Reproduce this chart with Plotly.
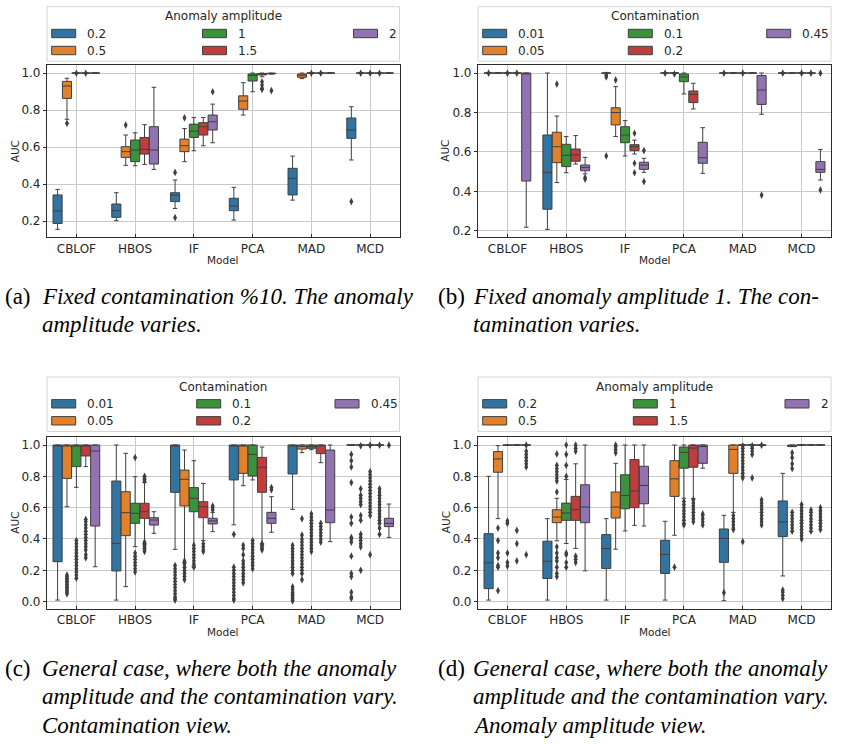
import plotly.graph_objects as go

# ---------------- data ----------------
MODELS = ["CBLOF", "HBOS", "IF", "PCA", "MAD", "MCD"]
AMP_LEVELS = ["0.2", "0.5", "1", "1.5", "2"]
CONT_LEVELS = ["0.01", "0.05", "0.1", "0.2", "0.45"]
HUE_COLORS = ["#3274a1", "#e1812c", "#3a923a", "#c03d3e", "#9372b2"]

# (a) fixed contamination, anomaly amplitude varies  -- rows: models, cols: hue levels
A_LO = [[0.155, 0.75, 1.0, 1.0, 1.0],
        [0.202, 0.501, 0.499, 0.506, 0.479],
        [0.268, 0.521, 0.58, 0.607, 0.623],
        [0.205, 0.773, 0.899, 0.98, 0.994],
        [0.313, 0.97, 1.0, 1.0, 1.0],
        [0.53, 1.0, 1.0, 1.0, 1.0]]
A_Q1 = [[0.187, 0.863, 1.0, 1.0, 1.0],
        [0.220, 0.544, 0.521, 0.562, 0.508],
        [0.305, 0.575, 0.652, 0.665, 0.692],
        [0.256, 0.804, 0.957, 0.99, 0.996],
        [0.341, 0.977, 1.0, 1.0, 1.0],
        [0.647, 1.0, 1.0, 1.0, 1.0]]
A_MED = [[0.254, 0.930, 1.0, 1.0, 1.0],
         [0.256, 0.575, 0.584, 0.587, 0.584],
         [0.340, 0.607, 0.686, 0.710, 0.737],
         [0.281, 0.849, 0.987, 0.995, 0.998],
         [0.431, 0.988, 1.0, 1.0, 1.0],
         [0.692, 1.0, 1.0, 1.0, 1.0]]
A_Q3 = [[0.341, 0.955, 1.0, 1.0, 1.0],
        [0.292, 0.602, 0.638, 0.652, 0.710],
        [0.353, 0.643, 0.724, 0.732, 0.773],
        [0.323, 0.877, 0.995, 0.998, 0.999],
        [0.485, 0.995, 1.0, 1.0, 1.0],
        [0.757, 1.0, 1.0, 1.0, 1.0]]
A_HI = [[0.371, 0.972, 1.0, 1.0, 1.0],
        [0.353, 0.665, 0.677, 0.721, 0.923],
        [0.422, 0.70, 0.76, 0.76, 0.832],
        [0.382, 0.948, 1.0, 1.0, 1.0],
        [0.551, 1.0, 1.0, 1.0, 1.0],
        [0.818, 1.0, 1.0, 1.0, 1.0]]
A_OUT = [[[], [0.728], [0.999], [0.999], []],
         [[], [0.719], [], [], []],
         [[0.463, 0.218], [0.758], [], [], [0.899]],
         [[], [], [], [0.953, 0.935, 0.918, 0.912], [0.905]],
         [[], [], [0.999], [0.999], []],
         [[0.305], [0.999], [0.999], [0.999], []]]

# (b) fixed anomaly amplitude, contamination varies
B_LO = [[1.0, 1.0, 1.0, 1.0, 0.219],
        [0.208, 0.445, 0.495, 0.539, 0.489],
        [0.999, 0.678, 0.58, 0.59, 0.497],
        [1.0, 1.0, 0.894, 0.818, 0.492],
        [1.0, 1.0, 1.0, 1.0, 0.791],
        [1.0, 1.0, 1.0, 1.0, 0.458]]
B_Q1 = [[1.0, 1.0, 1.0, 1.0, 0.453],
        [0.31, 0.546, 0.526, 0.553, 0.505],
        [0.999, 0.737, 0.647, 0.607, 0.512],
        [1.0, 1.0, 0.956, 0.85, 0.543],
        [1.0, 1.0, 1.0, 1.0, 0.841],
        [1.0, 1.0, 1.0, 1.0, 0.497]]
B_MED = [[1.0, 1.0, 1.0, 1.0, 1.0],
         [0.497, 0.627, 0.583, 0.585, 0.521],
         [1.0, 0.80, 0.686, 0.627, 0.534],
         [1.0, 1.0, 0.98, 0.892, 0.571],
         [1.0, 1.0, 1.0, 1.0, 0.914],
         [1.0, 1.0, 1.0, 1.0, 0.512]]
B_Q3 = [[1.0, 1.0, 1.0, 1.0, 1.0],
        [0.686, 0.70, 0.639, 0.615, 0.534],
        [1.0, 0.824, 0.728, 0.637, 0.548],
        [1.0, 1.0, 0.995, 0.909, 0.649],
        [1.0, 1.0, 1.0, 1.0, 0.987],
        [1.0, 1.0, 1.0, 1.0, 0.551]]
B_HI = [[1.0, 1.0, 1.0, 1.0, 1.0],
        [1.0, 0.782, 0.678, 0.683, 0.573],
        [1.0, 0.931, 0.759, 0.66, 0.568],
        [1.0, 1.0, 1.0, 0.948, 0.723],
        [1.0, 1.0, 1.0, 1.0, 1.0],
        [1.0, 1.0, 1.0, 1.0, 0.613]]
B_OUT = [[[0.999], [], [0.999], [0.999], []],
         [[], [0.944], [], [], [0.47, 0.463]],
         [[0.99, 0.98, 0.58], [0.965], [], [0.695, 0.543, 0.495], [0.607, 0.45]],
         [[0.999], [0.995], [], [], []],
         [[0.999], [], [0.999], [], [0.382]],
         [[0.999], [], [0.999], [0.999], [0.999, 0.408]]]

# (c) general case, contamination view
C_LO = [[0.01, 0.606, 0.73, 0.862, 0.223],
        [0.01, 0.096, 0.351, 0.368, 0.436],
        [0.334, 0.249, 0.228, 0.39, 0.447],
        [0.49, 0.74, 0.777, 0.368, 0.443],
        [0.589, 0.951, 0.97, 0.887, 0.383],
        [1.0, 1.0, 1.0, 1.0, 0.41]]
C_Q1 = [[0.255, 0.787, 0.862, 0.93, 0.483],
        [0.196, 0.421, 0.50, 0.532, 0.489],
        [0.698, 0.611, 0.574, 0.536, 0.496],
        [0.777, 0.819, 0.802, 0.698, 0.50],
        [0.815, 0.974, 0.979, 0.945, 0.504],
        [1.0, 1.0, 1.0, 1.0, 0.479]]
C_MED = [[1.0, 1.0, 1.0, 1.0, 0.962],
         [0.372, 0.568, 0.564, 0.574, 0.521],
         [1.0, 0.781, 0.66, 0.606, 0.515],
         [1.0, 1.0, 0.94, 0.857, 0.532],
         [1.0, 0.99, 0.99, 1.0, 0.585],
         [1.0, 1.0, 1.0, 1.0, 0.50]]
C_Q3 = [[1.0, 1.0, 1.0, 1.0, 1.0],
        [0.77, 0.702, 0.628, 0.628, 0.536],
        [1.0, 0.84, 0.728, 0.638, 0.532],
        [1.0, 1.0, 1.0, 0.921, 0.57],
        [1.0, 1.0, 1.0, 1.0, 0.968],
        [1.0, 1.0, 1.0, 1.0, 0.532]]
C_HI = [[1.0, 1.0, 1.0, 1.0, 1.0],
        [1.0, 0.947, 0.798, 0.76, 0.574],
        [1.0, 0.968, 0.90, 0.755, 0.57],
        [1.0, 1.0, 1.0, 0.987, 0.67],
        [1.0, 1.0, 1.0, 1.0, 1.0],
        [1.0, 1.0, 1.0, 1.0, 0.623]]
C_OUT = [[[],
          [0.17, 0.16, 0.15, 0.14, 0.13, 0.12, 0.11, 0.10, 0.09, 0.08, 0.07, 0.06, 0.05],
          [0.39, 0.37, 0.35, 0.33, 0.31, 0.29, 0.27, 0.25, 0.23, 0.21, 0.19, 0.17, 0.15],
          [0.525, 0.51, 0.49, 0.47, 0.45, 0.43, 0.41, 0.39, 0.37, 0.35, 0.33, 0.30, 0.28],
          []],
         [[],
          [],
          [0.92, 0.31, 0.29, 0.27, 0.25, 0.23, 0.21, 0.19],
          [0.80, 0.79, 0.78, 0.77, 0.38, 0.37, 0.36, 0.35, 0.34, 0.33, 0.32],
          []],
         [[0.23, 0.21, 0.19, 0.17, 0.15, 0.13, 0.11, 0.09, 0.07, 0.05, 0.03, 0.02, 0.01],
          [0.26, 0.24, 0.22, 0.20, 0.18, 0.16, 0.14],
          [0.36, 0.34, 0.32, 0.30, 0.28, 0.26, 0.24, 0.22],
          [0.37, 0.35, 0.33, 0.32],
          [0.61, 0.60, 0.585]],
         [[0.43, 0.22, 0.20, 0.18, 0.16, 0.14, 0.12, 0.10, 0.08, 0.06, 0.04, 0.02, 0.01],
          [0.36, 0.34, 0.30, 0.26, 0.24, 0.22, 0.20, 0.18, 0.16, 0.14, 0.12],
          [0.39, 0.37, 0.35, 0.33, 0.31, 0.29, 0.27, 0.25, 0.23, 0.21],
          [0.37, 0.36, 0.35, 0.34, 0.33],
          [0.728, 0.715]],
         [[0.36, 0.34, 0.32, 0.30, 0.28, 0.26, 0.24, 0.22, 0.20, 0.18, 0.095, 0.08, 0.06, 0.05, 0.04, 0.03, 0.02, 0.01, 0.005],
          [0.53, 0.425, 0.40, 0.38, 0.36, 0.34, 0.32, 0.30, 0.28, 0.26, 0.24, 0.22, 0.20, 0.18, 0.14],
          [0.56, 0.54, 0.52, 0.50, 0.48, 0.46, 0.44, 0.42, 0.40, 0.38, 0.36, 0.34, 0.32],
          [0.50, 0.48, 0.46, 0.44, 0.42, 0.40, 0.38],
          []],
         [[0.94, 0.90, 0.86, 0.76, 0.54, 0.50, 0.41, 0.40, 0.38, 0.29, 0.18, 0.16, 0.06, 0.03, 0.02],
          [0.995, 0.72, 0.68, 0.66, 0.64, 0.62, 0.55, 0.52, 0.43, 0.41, 0.39, 0.37, 0.35, 0.20],
          [0.999, 0.83, 0.81, 0.79, 0.77, 0.75, 0.73, 0.71, 0.69, 0.67, 0.65, 0.63, 0.61, 0.59, 0.57, 0.55, 0.30],
          [0.999, 0.72, 0.70, 0.68, 0.66, 0.64, 0.62, 0.60, 0.58, 0.56, 0.54, 0.52, 0.50, 0.47, 0.43],
          [0.999]]]

# (d) general case, anomaly amplitude view
D_LO = [[0.01, 0.53, 1.0, 1.0, 1.0],
        [0.01, 0.388, 0.371, 0.34, 0.197],
        [0.01, 0.335, 0.451, 0.487, 0.483],
        [0.01, 0.424, 0.66, 0.657, 0.852],
        [0.006, 0.57, 1.0, 1.0, 1.0],
        [0.164, 0.99, 1.0, 1.0, 1.0]]
D_Q1 = [[0.083, 0.826, 0.997, 1.0, 1.0],
        [0.148, 0.504, 0.519, 0.519, 0.504],
        [0.212, 0.534, 0.593, 0.60, 0.625],
        [0.18, 0.672, 0.852, 0.858, 0.883],
        [0.251, 0.819, 1.0, 1.0, 1.0],
        [0.415, 0.99, 1.0, 1.0, 1.0]]
D_MED = [[0.248, 0.911, 1.0, 1.0, 1.0],
         [0.258, 0.54, 0.566, 0.587, 0.604],
         [0.339, 0.604, 0.678, 0.706, 0.742],
         [0.301, 0.784, 0.953, 0.98, 0.99],
         [0.404, 0.972, 1.0, 1.0, 1.0],
         [0.509, 0.995, 1.0, 1.0, 1.0]]
D_Q3 = [[0.434, 0.958, 1.0, 1.0, 1.0],
        [0.386, 0.587, 0.629, 0.672, 0.746],
        [0.428, 0.70, 0.81, 0.907, 0.864],
        [0.392, 0.90, 0.987, 1.0, 1.0],
        [0.464, 1.0, 1.0, 1.0, 1.0],
        [0.643, 1.0, 1.0, 1.0, 1.0]]
D_HI = [[0.80, 0.996, 1.0, 1.0, 1.0],
        [0.53, 0.66, 0.78, 0.88, 1.0],
        [0.53, 0.883, 1.0, 1.0, 1.0],
        [0.513, 1.0, 1.0, 1.0, 1.0],
        [0.551, 1.0, 1.0, 1.0, 1.0],
        [0.819, 1.0, 1.0, 1.0, 1.0]]
D_OUT = [[[],
          [0.47, 0.39, 0.31, 0.28, 0.23, 0.22, 0.07],
          [0.515, 0.50, 0.31, 0.25, 0.227],
          [0.455, 0.37, 0.26],
          [0.999, 0.96, 0.94, 0.92, 0.90, 0.88, 0.86, 0.30]],
         [[],
          [0.943, 0.87, 0.85, 0.83, 0.81, 0.79, 0.77, 0.70, 0.35, 0.31, 0.28, 0.26, 0.22, 0.18, 0.16],
          [1.0, 0.94, 0.87, 0.80, 0.31, 0.30, 0.25, 0.22],
          [1.0, 0.98, 0.96, 0.29, 0.27, 0.25],
          []],
         [[],
          [1.0, 0.99, 0.97, 0.95],
          [], [], []],
         [[],
          [0.22],
          [0.64, 0.62, 0.60, 0.58, 0.56, 0.54, 0.52, 0.50, 0.49],
          [0.65, 0.63, 0.61, 0.59, 0.57, 0.55, 0.53, 0.51],
          [0.56, 0.55, 0.53, 0.51, 0.49]],
         [[0.057],
          [0.55, 0.53, 0.51, 0.49, 0.47, 0.46],
          [0.995, 0.98, 0.96, 0.94, 0.92, 0.90, 0.88, 0.86, 0.84, 0.82, 0.80, 0.79, 0.383],
          [0.995, 0.98, 0.96, 0.94, 0.79],
          [0.999, 0.65, 0.63, 0.61, 0.59, 0.57, 0.55, 0.53, 0.51, 0.49]],
         [[0.074, 0.06, 0.04, 0.02],
          [0.95, 0.92, 0.88, 0.85, 0.57, 0.55, 0.53, 0.51, 0.49, 0.47, 0.45],
          [0.62, 0.60, 0.58, 0.56, 0.54, 0.52, 0.50, 0.48, 0.46, 0.44, 0.42, 0.40],
          [0.585, 0.57, 0.55, 0.53, 0.51, 0.49, 0.47, 0.45],
          [0.60, 0.58, 0.56, 0.54, 0.52, 0.50, 0.48, 0.46]]]

Y_TICKS_AB = [0.2, 0.4, 0.6, 0.8, 1.0]
Y_TICKS_CD = [0.0, 0.2, 0.4, 0.6, 0.8, 1.0]

CAPTIONS = [
    ("(a)", ["Fixed contamination %10. The anomaly", "amplitude varies."]),
    ("(b)", ["Fixed anomaly amplitude 1. The con-", "tamination varies."]),
    ("(c)", ["General case, where both the anomaly",
             "amplitude and the contamination vary.", "Contamination view."]),
    ("(d)", ["General case, where both the anomaly",
             "amplitude and the contamination vary.", "Anomaly amplitude view."]),
]

# ---------------- layout constants ----------------
W, H = 841, 744
GRAY = "#3f3f3f"
TXT = "#262626"
SERIF = "Liberation Serif"


def px(x):
    return x / W


def py(y):
    return 1 - y / H


PANELS = [
    dict(stats=(A_LO, A_Q1, A_MED, A_Q3, A_HI, A_OUT), levels=AMP_LEVELS,
         title="Anomaly amplitude", x0=47, x1=399.5, y0=65.3, y1=237.3,
         yr=[0.112, 1.042], yt=Y_TICKS_AB, cols=[4.7, 155.5, 306.5], leg_top=6.7,
         auc_x=15, model_y=260),
    dict(stats=(B_LO, B_Q1, B_MED, B_Q3, B_HI, B_OUT), levels=CONT_LEVELS,
         title="Contamination", x0=478, x1=831, y0=65.3, y1=237.3,
         yr=[0.168, 1.039], yt=Y_TICKS_AB, cols=[4.7, 150.3, 288.7], leg_top=6.7,
         auc_x=445.5, model_y=260),
    dict(stats=(C_LO, C_Q1, C_MED, C_Q3, C_HI, C_OUT), levels=CONT_LEVELS,
         title="Contamination", x0=47, x1=399.5, y0=436.7, y1=608.7,
         yr=[-0.045, 1.053], yt=Y_TICKS_CD, cols=[4.7, 149.7, 288.0], leg_top=377,
         auc_x=15, model_y=631.5),
    dict(stats=(D_LO, D_Q1, D_MED, D_Q3, D_HI, D_OUT), levels=AMP_LEVELS,
         title="Anomaly amplitude", x0=478, x1=831, y0=436.7, y1=608.7,
         yr=[-0.045, 1.053], yt=Y_TICKS_CD, cols=[4.7, 155.3, 307.0], leg_top=377,
         auc_x=445.5, model_y=631.5),
]

HUE_STEP = 0.16
BOX_W = 0.155

fig = go.Figure()
shapes = []
annotations = []
layout_axes = {}

for i, p in enumerate(PANELS):
    k = "" if i == 0 else str(i + 1)
    xa, ya = "x" + k, "y" + k
    LO, Q1, MED, Q3, HI, OUT = p["stats"]
    nh = len(p["levels"])
    for h in range(nh):
        off = (h - (nh - 1) / 2) * HUE_STEP
        pos = [m + off for m in range(len(MODELS))]
        fig.add_trace(go.Box(
            x=pos, orientation="v",
            lowerfence=[r[h] for r in LO], q1=[r[h] for r in Q1],
            median=[r[h] for r in MED], q3=[r[h] for r in Q3],
            upperfence=[r[h] for r in HI],
            width=BOX_W, whiskerwidth=0.5, boxpoints=False,
            fillcolor=HUE_COLORS[h], line=dict(color=GRAY, width=1),
            xaxis=xa, yaxis=ya, showlegend=False, hoverinfo="skip"))
    ox, oy = [], []
    for m in range(len(MODELS)):
        for h in range(nh):
            for v in OUT[m][h]:
                ox.append(m + (h - (nh - 1) / 2) * HUE_STEP)
                oy.append(v)
    fig.add_trace(go.Scatter(
        x=ox, y=oy, mode="markers",
        marker=dict(symbol="diamond-tall", size=5.5, color=GRAY),
        xaxis=xa, yaxis=ya, showlegend=False, hoverinfo="skip"))

    common = dict(showgrid=True, gridcolor="#c9c9c9", gridwidth=1,
                  showline=True, mirror=True, linecolor="#2b2b2b", linewidth=1.2,
                  ticklen=3, tickcolor="#2b2b2b",
                  zeroline=False, layer="above traces",
                  tickfont=dict(size=12, color=TXT, family="DejaVu Sans"))
    layout_axes["xaxis" + k] = dict(
        domain=[px(p["x0"]), px(p["x1"])], anchor=ya, range=[-0.5, len(MODELS) - 0.5],
        ticks="inside",
        tickmode="array", tickvals=list(range(len(MODELS))), ticktext=MODELS, **common)
    layout_axes["yaxis" + k] = dict(
        domain=[py(p["y1"]), py(p["y0"])], anchor=xa, range=p["yr"],
        ticks="outside",
        tickmode="array", tickvals=p["yt"], tickformat=".1f", **common)

    # axis titles
    annotations.append(dict(text="Model", x=px((p["x0"] + p["x1"]) / 2), y=py(p["model_y"]),
                            xref="paper", yref="paper", showarrow=False,
                            xanchor="center", yanchor="middle",
                            font=dict(size=10.5, color=TXT, family="DejaVu Sans")))
    annotations.append(dict(text="AUC", x=px(p["auc_x"]), y=py((p["y0"] + p["y1"]) / 2),
                            xref="paper", yref="paper", showarrow=False, textangle=-90,
                            xanchor="center", yanchor="middle",
                            font=dict(size=10.5, color=TXT, family="DejaVu Sans")))

    # legend (matplotlib-like, 3 columns, column-major order)
    T = p["leg_top"]
    shapes.append(dict(type="rect", xref="paper", yref="paper",
                       x0=px(p["x0"]), x1=px(p["x1"]), y0=py(T + 54.5), y1=py(T),
                       line=dict(color="#d4d4d4", width=1), fillcolor="white"))
    annotations.append(dict(text=p["title"], x=px((p["x0"] + p["x1"]) / 2), y=py(T + 9.5),
                            xref="paper", yref="paper", showarrow=False,
                            xanchor="center", yanchor="middle",
                            font=dict(size=12, color=TXT, family="DejaVu Sans")))
    for h, lab in enumerate(p["levels"]):
        col, row = h // 2, h % 2
        sx = p["x0"] + p["cols"][col]
        sy = T + 26.8 + row * 17.0
        shapes.append(dict(type="rect", xref="paper", yref="paper",
                           x0=px(sx), x1=px(sx + 24), y0=py(sy + 4.2), y1=py(sy - 4.2),
                           line=dict(color=GRAY, width=1), fillcolor=HUE_COLORS[h]))
        annotations.append(dict(text=lab, x=px(sx + 33.5), y=py(sy),
                                xref="paper", yref="paper", showarrow=False,
                                xanchor="left", yanchor="middle",
                                font=dict(size=12, color=TXT, family="DejaVu Sans")))

# captions
CAP_POS = [(2.5, 40, 296.5), (436, 471, 296.5), (2.5, 40, 668), (436, 471, 668)]
LINE_STEP = 28.5
for (lab, lines), (lx, tx, y0) in zip(CAPTIONS, CAP_POS):
    cap_font = dict(size=23, color="black", family=SERIF)
    annotations.append(dict(text=lab, x=px(lx), y=py(y0), xref="paper", yref="paper",
                            showarrow=False, xanchor="left", yanchor="middle", font=cap_font))
    for j, line in enumerate(lines):
        annotations.append(dict(text="<i>" + line + "</i>", x=px(tx), y=py(y0 + j * LINE_STEP),
                                xref="paper", yref="paper", showarrow=False,
                                xanchor="left", yanchor="middle", font=cap_font))

fig.update_layout(
    width=W, height=H, margin=dict(l=0, r=0, t=0, b=0),
    paper_bgcolor="white", plot_bgcolor="white",
    font=dict(family="DejaVu Sans", color=TXT),
    showlegend=False, boxmode="overlay",
    shapes=shapes, annotations=annotations, **layout_axes)

fig.write_html("out.html")
